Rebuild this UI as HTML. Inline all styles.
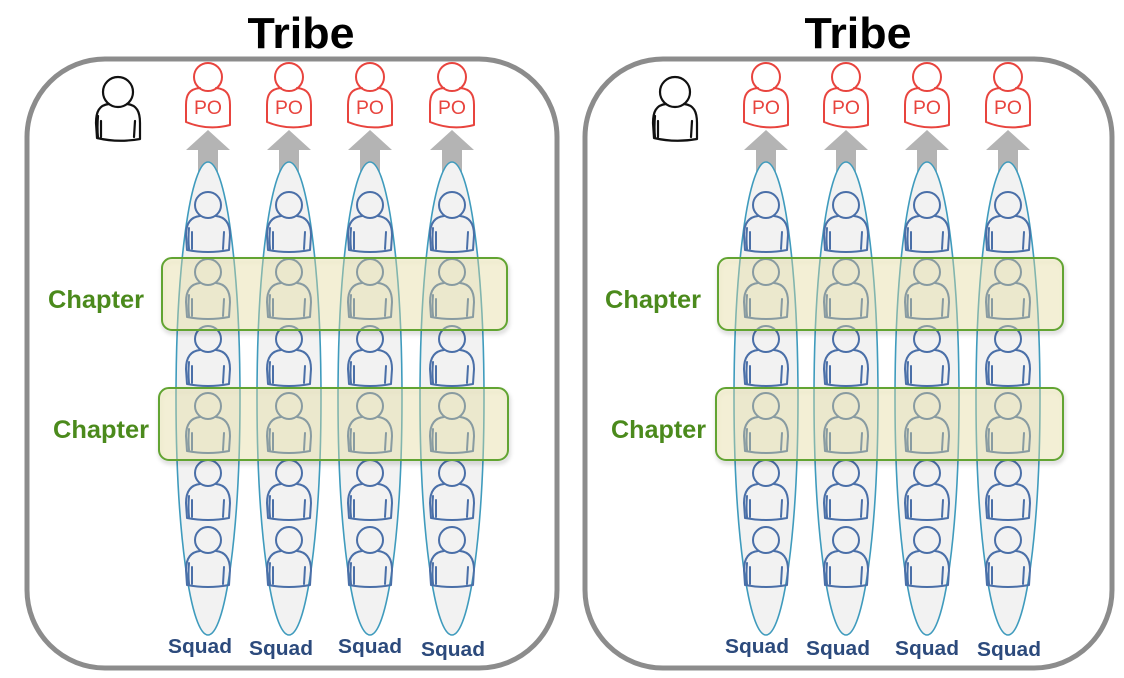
<!DOCTYPE html>
<html><head><meta charset="utf-8"><style>
html,body{margin:0;padding:0;background:#fff;}
svg{display:block;}
</style></head><body>
<svg width="1124" height="678" viewBox="0 0 1124 678" xmlns="http://www.w3.org/2000/svg">
<defs>
<g id="sq" fill="none" stroke="#4a6fa8" stroke-width="2" stroke-linecap="round" stroke-linejoin="round">
 <circle cx="0" cy="0" r="13"/>
 <path d="M-8,11 C-18,12 -22,19 -22,30 L-21,45 Q0,49 21,45 L22,30 C22,19 18,12 8,11"/>
 <path d="M-16,27 L-16,44 M16,27 L15,44 M-19,23 Q-20,34 -19,44"/>
</g>
<g id="po" fill="none" stroke="#e8443e" stroke-width="2" stroke-linecap="round" stroke-linejoin="round">
 <circle cx="0" cy="0" r="14"/>
 <path d="M-8,11 C-19,12 -22,18 -22,28 L-22,45 Q0,54 22,48 L22,28 C22,18 19,12 8,11"/>
</g>
<g id="bk" fill="none" stroke="#111" stroke-width="2.2" stroke-linecap="round" stroke-linejoin="round">
 <circle cx="0" cy="0" r="15"/>
 <path d="M-9,12 C-19,13 -22,20 -22,31 L-21,46 Q0,51 22,47 L22,31 C22,20 19,13 9,12"/>
 <path d="M-17,29 L-17,45 M17,29 L16,45 M-20,24 Q-21,35 -20,46"/>
</g>
<filter id="sh" x="-10%" y="-20%" width="120%" height="150%">
 <feDropShadow dx="1" dy="3" stdDeviation="2" flood-color="#000" flood-opacity="0.22"/>
</filter>
</defs>

<!-- panels -->
<rect x="27" y="59" width="530" height="609" rx="78" ry="78" fill="#fff" stroke="#8c8c8c" stroke-width="5"/>
<rect x="585" y="59" width="527" height="609" rx="78" ry="78" fill="#fff" stroke="#8c8c8c" stroke-width="5"/>

<!-- titles -->
<text x="301" y="48" text-anchor="middle" font-family="Liberation Sans, sans-serif" font-weight="bold" font-size="44" textLength="107" lengthAdjust="spacingAndGlyphs" fill="#000">Tribe</text>
<text x="858" y="48" text-anchor="middle" font-family="Liberation Sans, sans-serif" font-weight="bold" font-size="44" textLength="107" lengthAdjust="spacingAndGlyphs" fill="#000">Tribe</text>

<!-- black persons -->
<use href="#bk" x="118" y="92"/>
<use href="#bk" x="675" y="92"/>

<!-- arrows -->
<g fill="#b4b4b4">
<polygon points="208,130 230,150 218,150 218,175 198,175 198,150 186,150"/>
<polygon points="289,130 311,150 299,150 299,175 279,175 279,150 267,150"/>
<polygon points="370,130 392,150 380,150 380,175 360,175 360,150 348,150"/>
<polygon points="452,130 474,150 462,150 462,175 442,175 442,150 430,150"/>
<polygon points="766,130 788,150 776,150 776,175 756,175 756,150 744,150"/>
<polygon points="846,130 868,150 856,150 856,175 836,175 836,150 824,150"/>
<polygon points="927,130 949,150 937,150 937,175 917,175 917,150 905,150"/>
<polygon points="1008,130 1030,150 1018,150 1018,175 998,175 998,150 986,150"/>
</g>

<!-- PO persons -->
<g font-family="Liberation Sans, sans-serif" font-size="19" fill="#e8443e" text-anchor="middle">
<use href="#po" x="208" y="77"/><text x="208" y="114" textLength="28" lengthAdjust="spacingAndGlyphs">PO</text>
<use href="#po" x="289" y="77"/><text x="289" y="114" textLength="28" lengthAdjust="spacingAndGlyphs">PO</text>
<use href="#po" x="370" y="77"/><text x="370" y="114" textLength="28" lengthAdjust="spacingAndGlyphs">PO</text>
<use href="#po" x="452" y="77"/><text x="452" y="114" textLength="28" lengthAdjust="spacingAndGlyphs">PO</text>
<use href="#po" x="766" y="77"/><text x="766" y="114" textLength="28" lengthAdjust="spacingAndGlyphs">PO</text>
<use href="#po" x="846" y="77"/><text x="846" y="114" textLength="28" lengthAdjust="spacingAndGlyphs">PO</text>
<use href="#po" x="927" y="77"/><text x="927" y="114" textLength="28" lengthAdjust="spacingAndGlyphs">PO</text>
<use href="#po" x="1008" y="77"/><text x="1008" y="114" textLength="28" lengthAdjust="spacingAndGlyphs">PO</text>
</g>

<!-- ellipses -->
<g fill="#f2f2f2" stroke="#3f9bbd" stroke-width="1.6">
<ellipse cx="208" cy="398.5" rx="32" ry="236.5"/>
<ellipse cx="289" cy="398.5" rx="32" ry="236.5"/>
<ellipse cx="370" cy="398.5" rx="32" ry="236.5"/>
<ellipse cx="452" cy="398.5" rx="32" ry="236.5"/>
<ellipse cx="766" cy="398.5" rx="32" ry="236.5"/>
<ellipse cx="846" cy="398.5" rx="32" ry="236.5"/>
<ellipse cx="927" cy="398.5" rx="32" ry="236.5"/>
<ellipse cx="1008" cy="398.5" rx="32" ry="236.5"/>
</g>

<!-- squad persons -->
<g>
<use href="#sq" x="208" y="205"/><use href="#sq" x="208" y="272"/><use href="#sq" x="208" y="339"/><use href="#sq" x="208" y="406"/><use href="#sq" x="208" y="473"/><use href="#sq" x="208" y="540"/>
<use href="#sq" x="289" y="205"/><use href="#sq" x="289" y="272"/><use href="#sq" x="289" y="339"/><use href="#sq" x="289" y="406"/><use href="#sq" x="289" y="473"/><use href="#sq" x="289" y="540"/>
<use href="#sq" x="370" y="205"/><use href="#sq" x="370" y="272"/><use href="#sq" x="370" y="339"/><use href="#sq" x="370" y="406"/><use href="#sq" x="370" y="473"/><use href="#sq" x="370" y="540"/>
<use href="#sq" x="452" y="205"/><use href="#sq" x="452" y="272"/><use href="#sq" x="452" y="339"/><use href="#sq" x="452" y="406"/><use href="#sq" x="452" y="473"/><use href="#sq" x="452" y="540"/>
<use href="#sq" x="766" y="205"/><use href="#sq" x="766" y="272"/><use href="#sq" x="766" y="339"/><use href="#sq" x="766" y="406"/><use href="#sq" x="766" y="473"/><use href="#sq" x="766" y="540"/>
<use href="#sq" x="846" y="205"/><use href="#sq" x="846" y="272"/><use href="#sq" x="846" y="339"/><use href="#sq" x="846" y="406"/><use href="#sq" x="846" y="473"/><use href="#sq" x="846" y="540"/>
<use href="#sq" x="927" y="205"/><use href="#sq" x="927" y="272"/><use href="#sq" x="927" y="339"/><use href="#sq" x="927" y="406"/><use href="#sq" x="927" y="473"/><use href="#sq" x="927" y="540"/>
<use href="#sq" x="1008" y="205"/><use href="#sq" x="1008" y="272"/><use href="#sq" x="1008" y="339"/><use href="#sq" x="1008" y="406"/><use href="#sq" x="1008" y="473"/><use href="#sq" x="1008" y="540"/>
</g>

<!-- chapter boxes -->
<g fill="rgba(238,230,160,0.36)" stroke="#62a432" stroke-width="2" filter="url(#sh)">
<rect x="162" y="258" width="345" height="72" rx="10"/>
<rect x="159" y="388" width="349" height="72" rx="10"/>
<rect x="718" y="258" width="345" height="72" rx="10"/>
<rect x="716" y="388" width="347" height="72" rx="10"/>
</g>

<!-- chapter labels -->
<g font-family="Liberation Sans, sans-serif" font-weight="bold" font-size="25" fill="#4b8a1c">
<text x="48" y="308" textLength="96" lengthAdjust="spacingAndGlyphs">Chapter</text>
<text x="53" y="438" textLength="96" lengthAdjust="spacingAndGlyphs">Chapter</text>
<text x="605" y="308" textLength="96" lengthAdjust="spacingAndGlyphs">Chapter</text>
<text x="611" y="438" textLength="95" lengthAdjust="spacingAndGlyphs">Chapter</text>
</g>

<!-- squad labels -->
<g font-family="Liberation Sans, sans-serif" font-weight="bold" font-size="20" fill="#2c4a7c" text-anchor="middle">
<text x="200" y="653" textLength="64" lengthAdjust="spacingAndGlyphs">Squad</text>
<text x="281" y="655" textLength="64" lengthAdjust="spacingAndGlyphs">Squad</text>
<text x="370" y="653" textLength="64" lengthAdjust="spacingAndGlyphs">Squad</text>
<text x="453" y="656" textLength="64" lengthAdjust="spacingAndGlyphs">Squad</text>
<text x="757" y="653" textLength="64" lengthAdjust="spacingAndGlyphs">Squad</text>
<text x="838" y="655" textLength="64" lengthAdjust="spacingAndGlyphs">Squad</text>
<text x="927" y="655" textLength="64" lengthAdjust="spacingAndGlyphs">Squad</text>
<text x="1009" y="656" textLength="64" lengthAdjust="spacingAndGlyphs">Squad</text>
</g>
</svg>
</body></html>
